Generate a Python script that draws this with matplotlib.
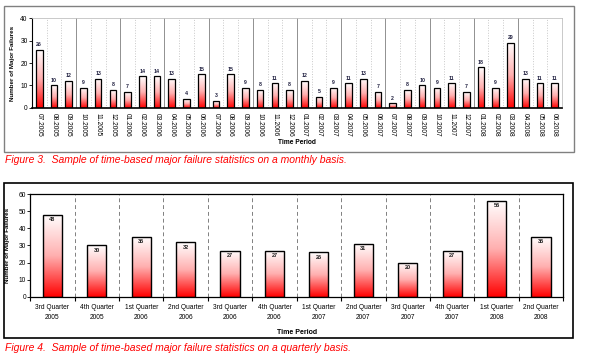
import numpy as np
import matplotlib.pyplot as plt
from matplotlib.colors import LinearSegmentedColormap
from matplotlib.patches import Rectangle

plt.rcParams['font.family'] = ['Liberation Sans', 'DejaVu Sans']

months = ['07.2005', '08.2005', '09.2005', '10.2005', '11.2005', '12.2005',
          '01.2006', '02.2006', '03.2006', '04.2006', '05.2006', '06.2006',
          '07.2006', '08.2006', '09.2006', '10.2006', '11.2006', '12.2006',
          '01.2007', '02.2007', '03.2007', '04.2007', '05.2006', '06.2007',
          '07.2007', '08.2007', '09.2007', '10.2007', '11.2007', '12.2007',
          '01.2008', '02.2008', '03.2008', '04.2008', '05.2008', '06.2008']
monthly_failures = [26, 10, 12, 9, 13, 8, 7, 14, 14, 13, 4, 15,
                    3, 15, 9, 8, 11, 8, 12, 5, 9, 11, 13, 7,
                    2, 8, 10, 9, 11, 7, 18, 9, 29, 13, 11, 11]

quarters = ['3rd Quarter\n2005', '4th Quarter\n2005', '1st Quarter\n2006',
            '2nd Quarter\n2006', '3rd Quarter\n2006', '4th Quarter\n2006',
            '1st Quarter\n2007', '2nd Quarter\n2007', '3rd Quarter\n2007',
            '4th Quarter\n2007', '1st Quarter\n2008', '2nd Quarter\n2008']
quarterly_failures = [48, 30, 35, 32, 27, 27, 26, 31, 20, 27, 56, 35]

red_white = LinearSegmentedColormap.from_list('rw', ['#ff0000', '#ffb0b0', '#ffffff'])
grad = np.linspace(0, 1, 256).reshape(-1, 1)


def gradient_bars(ax, bars, lw):
    # fill each bar with a red->white vertical gradient
    for b in bars:
        x0, y0 = b.get_x(), b.get_y()
        w, h = b.get_width(), b.get_height()
        im = ax.imshow(grad, cmap=red_white, origin='lower', aspect='auto',
                       extent=(x0, x0 + w, y0, y0 + h), zorder=2)
        im.set_clip_path(b)
        ax.add_patch(Rectangle((x0, y0), w, h, fill=False, edgecolor='black',
                               linewidth=lw, zorder=3))


fig = plt.figure(figsize=(5.91, 3.56), dpi=100)

# frames around each chart
fig.patches.append(Rectangle((0.006, 0.573), 0.965, 0.41, transform=fig.transFigure,
                             fill=False, edgecolor='#808080', linewidth=1))
fig.patches.append(Rectangle((0.007, 0.051), 0.962, 0.435, transform=fig.transFigure,
                             fill=False, edgecolor='black', linewidth=1.2))

# ---- monthly chart
ax1 = fig.add_axes([0.054, 0.697, 0.897, 0.252])
x1 = np.arange(len(months))
bars1 = ax1.bar(x1, monthly_failures, width=0.45, color='none', edgecolor='none')
gradient_bars(ax1, bars1, 0.9)
for i, v in enumerate(monthly_failures):
    ax1.text(i, v + 1.2, str(v), ha='center', va='bottom', fontsize=3.8,
             fontweight='bold', color='#202040')
for k in range(len(months) - 1):
    if (k + 1) % 3 == 0:
        ax1.axvline(k + 0.5, color='#909090', linewidth=0.7, zorder=1)
    else:
        ax1.axvline(k + 0.5, color='#c8c8c8', linewidth=0.7, linestyle=':', zorder=1)
ax1.set_xlim(-0.5, len(months) - 0.5)
ax1.set_ylim(0, 40)
ax1.set_yticks([0, 10, 20, 30, 40])
ax1.set_xticks(x1)
ax1.set_xticklabels(months, rotation=270, fontsize=4.8)
ax1.tick_params(axis='y', labelsize=4.8, length=2, width=0.6, pad=1)
ax1.tick_params(axis='x', length=0, pad=4)
for s in ['top', 'right']:
    ax1.spines[s].set_color('#c0c0c0')
    ax1.spines[s].set_linewidth(0.6)
ax1.spines['left'].set_linewidth(0.8)
ax1.spines['bottom'].set_linewidth(1.2)
ax1.set_ylabel('Number of Major Failures', fontsize=4.5, fontweight='bold', labelpad=4)
ax1.set_xlabel('Time Period', fontsize=4.8, fontweight='bold', labelpad=1)

fig.text(0.008, 0.551, 'Figure 3.  Sample of time-based major failure statistics on a monthly basis.',
         color='#ff0000', style='italic', fontsize=7.5, va='center')

# ---- quarterly chart
ax2 = fig.add_axes([0.051, 0.166, 0.902, 0.289])
x2 = np.arange(len(quarters))
bars2 = ax2.bar(x2, quarterly_failures, width=0.43, color='none', edgecolor='none')
gradient_bars(ax2, bars2, 1.0)
for i, v in enumerate(quarterly_failures):
    ax2.text(i, v - 1.5, str(v), ha='center', va='top', fontsize=4,
             fontweight='bold', color='#202020', zorder=4)
for k in range(len(quarters) - 1):
    ax2.axvline(k + 0.5, color='#808080', linewidth=0.7, linestyle=(0, (4, 3)), zorder=1)
ax2.set_xlim(-0.5, len(quarters) - 0.5)
ax2.set_ylim(0, 60)
ax2.set_yticks(range(0, 61, 10))
ax2.set_xticks(x2)
ax2.set_xticklabels(quarters, fontsize=4.8, linespacing=1.6)
ax2.set_xticks(np.arange(-0.5, len(quarters)), minor=True)
ax2.tick_params(axis='x', which='major', length=0, pad=5)
ax2.tick_params(axis='x', which='minor', length=3, width=0.8)
ax2.tick_params(axis='y', labelsize=4.8, length=2, width=0.6, pad=1)
for s in ax2.spines.values():
    s.set_linewidth(0.9)
ax2.set_ylabel('Number of Major Failures', fontsize=4.5, fontweight='bold', labelpad=6)
ax2.set_xlabel('Time Period', fontsize=5, fontweight='bold', labelpad=6)

fig.text(0.008, 0.022, 'Figure 4.  Sample of time-based major failure statistics on a quarterly basis.',
         color='#ff0000', style='italic', fontsize=7.5, va='center')

fig.savefig('out.png', dpi=100)
